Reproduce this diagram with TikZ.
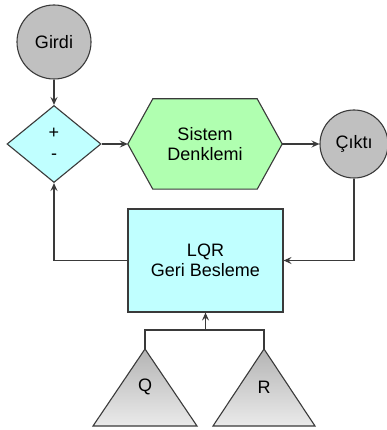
\documentclass[tikz,border=0pt]{standalone}
\usepackage{fontspec}
\setmainfont{Liberation Sans}
\usetikzlibrary{shapes.geometric,arrows.meta,calc,backgrounds}
\definecolor{lnc}{HTML}{3A3A3A}
\definecolor{grayf}{HTML}{C0C0C0}
\definecolor{cyanf}{HTML}{C0FFFF}
\definecolor{greenf}{HTML}{B0FFB0}
\definecolor{tritop}{HTML}{B4B4B4}
\definecolor{tribot}{HTML}{EAEAEA}
\begin{document}
\begin{tikzpicture}[x=1pt,y=-1pt,
  every node/.style={font=\fontsize{18}{20}\selectfont, align=center, text=black},
  outline/.style={draw=lnc, line width=1.1pt},
  endpt/.style={circle, outline, fill=grayf, inner sep=0pt},
  conn/.style={draw=lnc, line width=1.2pt},
  arr/.style={conn, -{Stealth[length=8pt,width=7pt,inset=3pt]}}]
\useasboundingbox (0,0) rectangle (387,430);
% nodes
\node[endpt, minimum size=74pt] (girdi) at (54,42) {Girdi};
\node[diamond, outline, fill=cyanf, minimum width=94pt, minimum height=77pt, inner sep=0pt] (sum) at (54,144) {};
\node (plus) at (54,133) {+};
\node (minus) at (54,157) {-};
\node[minimum width=154pt, minimum height=90pt, inner sep=0pt] (sys) at (205,144) {Sistem\\Denklemi};
\begin{scope}[on background layer]
\fill[white] (0,0) rectangle (387,430);
\draw[outline, fill=greenf] (sys.west) -- ($(sys.north west)+(25,0)$) -- ($(sys.north east)+(-25,0)$) -- (sys.east) -- ($(sys.south east)+(-25,0)$) -- ($(sys.south west)+(25,0)$) -- cycle;
\end{scope}
\node[endpt, minimum size=68pt] (cikti) at (354,144) {Çıktı};
\node[rectangle, outline, fill=cyanf, minimum width=155pt, minimum height=103pt] (lqr) at (205.5,260.5) {LQR\\Geri Besleme};
% triangles
\coordinate (qtop) at (145,349);
\coordinate (rtop) at (264,349);
\shade[top color=tritop, bottom color=tribot, outline] (qtop) -- (93,426) -- (197,426) -- cycle;
\shade[top color=tritop, bottom color=tribot, outline] (rtop) -- (213,426) -- (315,426) -- cycle;
\node (qlab) at (145,387) {Q};
\node (rlab) at (264,387) {R};
\coordinate (join) at (205.5,330);
% connectors
\draw[arr] (girdi.south) -- (sum.north);
\draw[arr] (sum.east) -- (sys.west);
\draw[arr] (sys.east) -- (cikti.west);
\draw[arr] (cikti.south) |- (lqr.east);
\draw[arr] (lqr.west) -| (sum.south);
\draw[conn] (qtop) |- (join) -| (rtop);
\draw[arr] (join) -- (lqr.south);
\end{tikzpicture}
\end{document}
